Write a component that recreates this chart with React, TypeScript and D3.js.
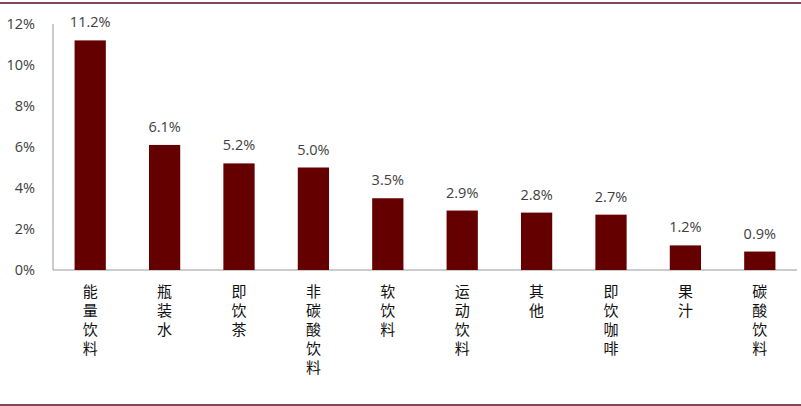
import React from "react";
import * as d3 from "d3";

const categories = ["能量饮料", "瓶装水", "即饮茶", "非碳酸饮料", "软饮料", "运动饮料", "其他", "即饮咖啡", "果汁", "碳酸饮料"];
const values = [11.2, 6.1, 5.2, 5.0, 3.5, 2.9, 2.8, 2.7, 1.2, 0.9];
const yTicks = [0, 2, 4, 6, 8, 10, 12];

const W = 801;
const H = 406;
const left = 53;
const right = 797;
const top = 24;
const bottom = 270;

export default function App() {
  const x = d3.scaleBand<string>().domain(categories).range([left, right]).paddingInner(0.58).paddingOuter(0.29);
  const y = d3.scaleLinear().domain([0, 12]).range([bottom, top]);
  const font = "'Open Sans', 'Liberation Sans', Arial, sans-serif";
  return (
    <svg width={W} height={H} style={{ position: "fixed", left: 0, top: 0, background: "#fff" }}>
      <line x1={0} x2={W} y1={3} y2={3} stroke="#5a0a1e" strokeWidth={1.5} />
      <line x1={0} x2={W} y1={405} y2={405} stroke="#5a0a1e" strokeWidth={1.5} />
      <line x1={left} x2={left} y1={top} y2={bottom} stroke="#999" strokeWidth={1} />
      <line x1={left} x2={right} y1={bottom} y2={bottom} stroke="#999" strokeWidth={1} />
      {yTicks.map((t) => (
        <text key={t} x={35} y={y(t)} dy="0.35em" textAnchor="end" fontFamily={font} fontSize={14.5} fill="#404040">
          {t}%
        </text>
      ))}
      {categories.map((c, i) => {
        const bx = x(c)!;
        const bw = x.bandwidth();
        const cx = bx + bw / 2;
        return (
          <g key={c}>
            <rect x={bx} y={y(values[i])} width={bw} height={bottom - y(values[i])} fill="#650000" />
            <text x={cx} y={y(values[i]) - 13} textAnchor="middle" fontFamily={font} fontSize={14.5} fill="#404040">
              {values[i].toFixed(1)}%
            </text>
            {Array.from(c).map((ch, k) => (
              <text key={k} x={cx} y={292 + k * 19} dy="0.35em" textAnchor="middle" fontFamily="'Noto Sans CJK SC', sans-serif" fontSize={15} fill="#111">
                {ch}
              </text>
            ))}
          </g>
        );
      })}
    </svg>
  );
}
